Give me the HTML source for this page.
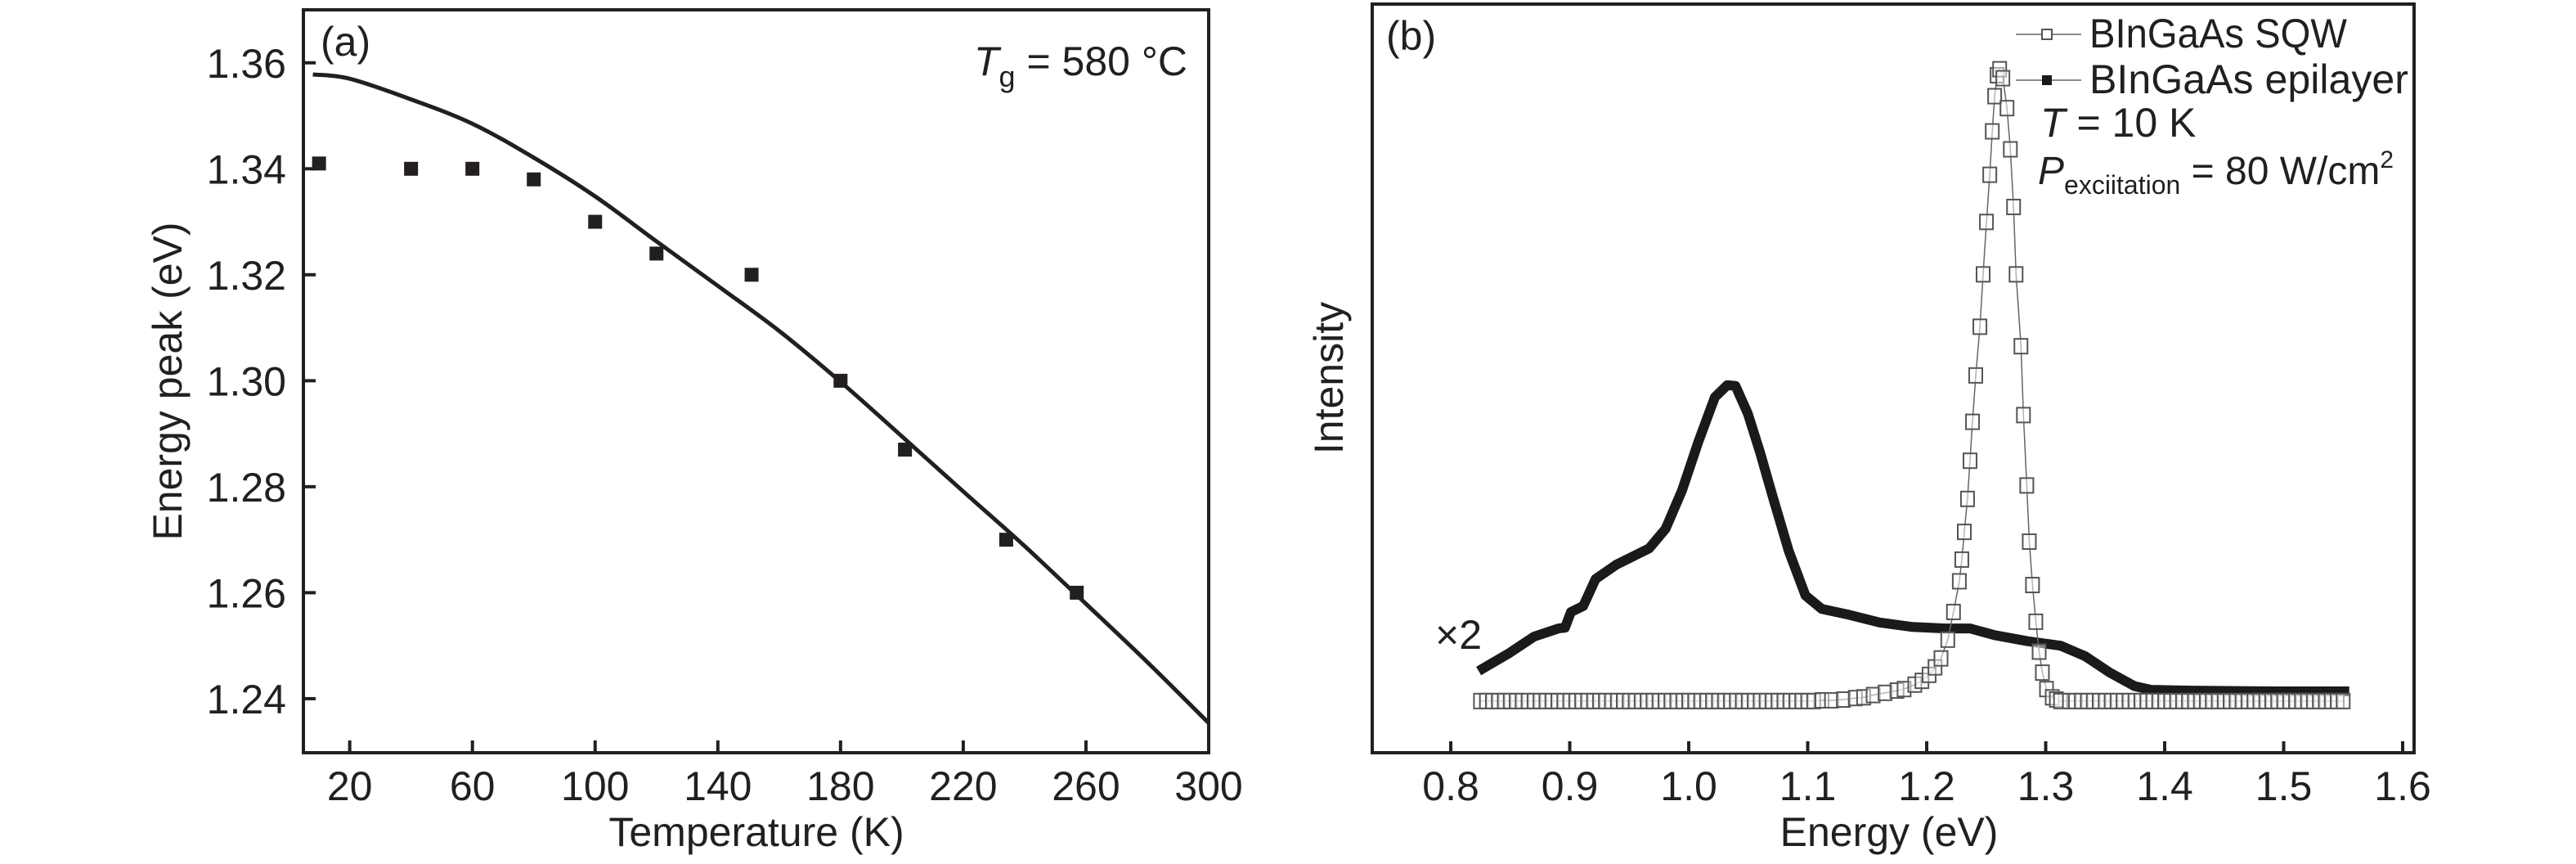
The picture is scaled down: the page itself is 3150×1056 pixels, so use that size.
<!DOCTYPE html>
<html><head><meta charset="utf-8"><style>
html,body{margin:0;padding:0;background:#fff;}
svg{display:block;}
text{font-family:"Liberation Sans",sans-serif;fill:#231f20;}
</style></head><body>
<svg id="fig" width="3150" height="1056" viewBox="0 0 3150 1056" xmlns="http://www.w3.org/2000/svg">
<g id="pa"></g>
<g id="pb"></g>
</svg>
<script>
// Panel (a) data
const aTicksX = [20,60,100,140,180,220,260,300];
const aTicksY = [1.24,1.26,1.28,1.30,1.32,1.34,1.36];
const aPointsT = [10,40,60,80,100,120,151,180,201,234,257];
const aPointsE = [1.341,1.340,1.340,1.338,1.330,1.324,1.320,1.300,1.287,1.270,1.260];
const aFitT = [8,20,40,60,80,100,120,140,160,180,200,220,240,260,280,300];
const aFitE = [1.3578,1.3570,1.3531,1.3485,1.3421,1.3348,1.3263,1.3179,1.3094,1.2998,1.2895,1.2791,1.2688,1.2579,1.2469,1.2354];
// Panel (b) data
const bTicksX = [0.8,0.9,1.0,1.1,1.2,1.3,1.4,1.5,1.6];
const sqwE = [
0.825,0.830,0.835,0.840,0.845,0.850,0.855,0.860,0.865,0.870,
0.875,0.880,0.885,0.890,0.895,0.900,0.905,0.910,0.915,0.920,
0.925,0.930,0.935,0.940,0.945,0.950,0.955,0.960,0.965,0.970,
0.975,0.980,0.985,0.990,0.995,1.000,1.005,1.010,1.015,1.020,
1.025,1.030,1.035,1.040,1.045,1.050,1.055,1.060,1.065,1.070,
1.075,1.080,1.085,1.090,1.095,1.100,1.105,
1.112,1.120,1.130,1.140,1.147,1.155,1.165,1.175,1.181,1.190,1.196,1.202,1.207,1.212,
1.2177,1.2225,1.2274,1.2295,1.2316,1.2343,1.2364,1.2385,1.2412,1.2447,1.2474,1.2502,1.2530,1.2551,1.2571,1.2592,1.2613,1.2640,1.2675,1.2703,1.2730,1.2751,1.2792,1.2813,1.2841,1.2862,1.2889,1.2917,1.2945,1.2972,1.3007,1.3055,1.3090,1.3125,
1.320,1.325,1.330,1.335,1.340,1.345,1.350,1.355,1.360,1.365,
1.370,1.375,1.380,1.385,1.390,1.395,1.400,1.405,1.410,1.415,
1.420,1.425,1.430,1.435,1.440,1.445,1.450,1.455,1.460,1.465,
1.470,1.475,1.480,1.485,1.490,1.495,1.500,1.505,1.510,1.515,
1.520,1.525,1.530,1.535,1.540,1.545,1.550];
const sqwI = [
6.9,6.9,6.9,6.9,6.9,6.9,6.9,6.9,6.9,6.9,
6.9,6.9,6.9,6.9,6.9,6.9,6.9,6.9,6.9,6.9,
6.9,6.9,6.9,6.9,6.9,6.9,6.9,6.9,6.9,6.9,
6.9,6.9,6.9,6.9,6.9,6.9,6.9,6.9,6.9,6.9,
6.9,6.9,6.9,6.9,6.9,6.9,6.9,6.9,6.9,6.9,
6.9,6.9,6.9,6.9,6.9,6.9,6.9,
7.0,7.0,7.1,7.3,7.4,7.7,8.0,8.3,8.5,9.1,9.6,10.4,11.4,12.6,
15.1,18.8,22.9,25.8,29.5,33.9,39.0,44.2,50.4,56.9,63.9,70.9,77.2,83.0,87.7,90.5,91.3,90.1,86.1,80.6,72.9,63.9,54.3,45.1,35.7,28.2,22.4,17.5,13.5,10.7,8.5,7.4,7.1,6.9,
6.9,6.9,6.9,6.9,6.9,6.9,6.9,6.9,6.9,6.9,
6.9,6.9,6.9,6.9,6.9,6.9,6.9,6.9,6.9,6.9,
6.9,6.9,6.9,6.9,6.9,6.9,6.9,6.9,6.9,6.9,
6.9,6.9,6.9,6.9,6.9,6.9,6.9,6.9,6.9,6.9,
6.9,6.9,6.9,6.9,6.9,6.9,6.9];
const epiE = [0.8270,0.8491,0.8698,0.8906,0.8960,0.9010,0.9113,0.9217,0.9390,0.9667,0.9805,0.9943,1.0082,1.0220,1.0324,1.0393,1.0497,1.0600,1.0704,1.0842,1.0981,1.1119,1.1326,1.1603,1.1880,1.2156,1.2364,1.2571,1.2848,1.3125,1.3332,1.3539,1.3747,1.3885,1.4231,1.4923,1.5510];
const epiI = [11.25,13.3,15.5,16.6,16.7,18.8,19.6,23.2,25.1,27.3,29.9,35.0,41.6,47.5,49.1,49.0,45.3,40.1,34.3,26.9,21.0,19.2,18.5,17.4,16.8,16.6,16.6,15.7,14.9,14.3,12.9,10.7,8.9,8.4,8.3,8.2,8.2];

const NS='http://www.w3.org/2000/svg';
function mk(parent,tag,attrs,txt){const e=document.createElementNS(NS,tag);for(const k in attrs)e.setAttribute(k,attrs[k]);if(txt!==undefined)e.textContent=txt;parent.appendChild(e);return e;}
function smooth(pts){let d='M'+pts[0][0].toFixed(1)+' '+pts[0][1].toFixed(1);
  for(let i=0;i<pts.length-1;i++){const p0=pts[Math.max(0,i-1)],p1=pts[i],p2=pts[i+1],p3=pts[Math.min(pts.length-1,i+2)];
    const c1=[p1[0]+(p2[0]-p0[0])/6,p1[1]+(p2[1]-p0[1])/6],c2=[p2[0]-(p3[0]-p1[0])/6,p2[1]-(p3[1]-p1[1])/6];
    d+='C'+c1[0].toFixed(1)+' '+c1[1].toFixed(1)+' '+c2[0].toFixed(1)+' '+c2[1].toFixed(1)+' '+p2[0].toFixed(1)+' '+p2[1].toFixed(1);}
  return d;}
const INK='#231f20';

// ---------- Panel A ----------
const A={l:371,r:1478,t:12,b:920,x0:4.9,x1:300,y0:1.2298,y1:1.3700};
const ax=v=>A.l+(v-A.x0)/(A.x1-A.x0)*(A.r-A.l);
const ay=v=>A.b-(v-A.y0)/(A.y1-A.y0)*(A.b-A.t);
const pa=document.getElementById('pa');
let f=mk(pa,'rect',{x:A.l,y:A.t,width:A.r-A.l,height:A.b-A.t,fill:'none',stroke:INK,'stroke-width':4});


aTicksX.forEach(v=>{
  const t=mk(pa,'line',{x1:ax(v),x2:ax(v),y1:A.b,y2:A.b-15,stroke:INK,'stroke-width':4});
  
  
  const l=mk(pa,'text',{x:ax(v),y:978,'font-size':50,'text-anchor':'middle'},String(v));
  
  
});
aTicksY.forEach(v=>{
  const t=mk(pa,'line',{x1:A.l,x2:A.l+15,y1:ay(v),y2:ay(v),stroke:INK,'stroke-width':4});
  
  
  const l=mk(pa,'text',{x:350,y:ay(v)+18,'font-size':50,'text-anchor':'end'},v.toFixed(2));
  
  
});
let fit=mk(pa,'path',{d:smooth(aFitT.map((t,i)=>[ax(t),ay(aFitE[i])])),fill:'none',stroke:INK,'stroke-width':5,'stroke-linejoin':'round'});


aPointsT.forEach((t,i)=>{
  const s=mk(pa,'rect',{x:ax(t)-8.5,y:ay(aPointsE[i])-8.5,width:17,height:17,fill:INK});
  
  
});
let tx;
tx=mk(pa,'text',{x:392,y:68,'font-size':50},'(a)');


tx=mk(pa,'text',{x:1191,y:92,'font-size':50});
tx.innerHTML='<tspan font-style="italic">T</tspan><tspan font-size="36" dy="14">g</tspan><tspan dy="-14"> = 580 °C</tspan>';


tx=mk(pa,'text',{x:925,y:1034,'font-size':50,'text-anchor':'middle'},'Temperature (K)');


tx=mk(pa,'text',{x:0,y:0,'font-size':50,'text-anchor':'middle',transform:'translate(222,466) rotate(-90)'},'Energy peak (eV)');



// ---------- Panel B ----------
const B={l:1678,r:2952,t:5,b:920,x0:0.734,x1:1.6096,y0:0,y1:100};
const bx=v=>B.l+(v-B.x0)/(B.x1-B.x0)*(B.r-B.l);
const by=v=>B.b-(v-B.y0)/(B.y1-B.y0)*(B.b-B.t);
const pb=document.getElementById('pb');
f=mk(pb,'rect',{x:B.l,y:B.t,width:B.r-B.l,height:B.b-B.t,fill:'none',stroke:INK,'stroke-width':4});


bTicksX.forEach(v=>{
  const t=mk(pb,'line',{x1:bx(v),x2:bx(v),y1:B.b,y2:B.b-14,stroke:INK,'stroke-width':4});
  
  
  const l=mk(pb,'text',{x:bx(v),y:978,'font-size':50,'text-anchor':'middle'},v.toFixed(1));
  
  
});
// epilayer
let d='';epiE.forEach((e,i)=>{d+=(i?'L':'M')+bx(e).toFixed(1)+' '+by(epiI[i]).toFixed(1);});
let epi=mk(pb,'path',{d:d,fill:'none',stroke:'#1a1a1a','stroke-width':12,'stroke-linejoin':'round','stroke-linecap':'square'});


// sqw
d='';sqwE.forEach((e,i)=>{d+=(i?'L':'M')+bx(e).toFixed(1)+' '+by(sqwI[i]).toFixed(1);});
let sl=mk(pb,'path',{d:d,fill:'none',stroke:'#666','stroke-width':1.5});


sqwE.forEach((e,i)=>{
  const s=mk(pb,'rect',{x:bx(e)-8,y:by(sqwI[i])-9,width:16,height:18,fill:'#fff','fill-opacity':0.5,stroke:'#555','stroke-width':2});
  
  
});
// legend
let lg=mk(pb,'g',{});


let le=mk(lg,'line',{x1:2465,x2:2545,y1:42,y2:42,stroke:'#666','stroke-width':1.5});


le=mk(lg,'rect',{x:2497,y:36,width:12,height:12,fill:'#fff',stroke:'#555','stroke-width':2});


le=mk(lg,'text',{x:2555,y:58,'font-size':50,textLength:315,lengthAdjust:'spacingAndGlyphs'},'BInGaAs SQW');


le=mk(lg,'line',{x1:2465,x2:2545,y1:98,y2:98,stroke:'#666','stroke-width':1.5});


le=mk(lg,'rect',{x:2497,y:92,width:12,height:12,fill:'#1a1a1a'});


le=mk(lg,'text',{x:2555,y:114,'font-size':50,textLength:390,lengthAdjust:'spacingAndGlyphs'},'BInGaAs epilayer');


tx=mk(pb,'text',{x:2495,y:167,'font-size':50});
tx.innerHTML='<tspan font-style="italic">T</tspan> = 10 K';


tx=mk(pb,'text',{x:2492,y:225,'font-size':48});
tx.innerHTML='<tspan font-style="italic">P</tspan><tspan font-size="32" dy="12">exciitation</tspan><tspan dy="-12"> = 80 W/cm</tspan><tspan font-size="30" dy="-20">2</tspan>';


tx=mk(pb,'text',{x:1695,y:61,'font-size':50},'(b)');


tx=mk(pb,'text',{x:1755,y:793,'font-size':50},'×2');


tx=mk(pb,'text',{x:2310,y:1034,'font-size':50,'text-anchor':'middle'},'Energy (eV)');


tx=mk(pb,'text',{x:0,y:0,'font-size':50,'text-anchor':'middle',transform:'translate(1642,462) rotate(-90)'},'Intensity');


</script>
</body></html>
